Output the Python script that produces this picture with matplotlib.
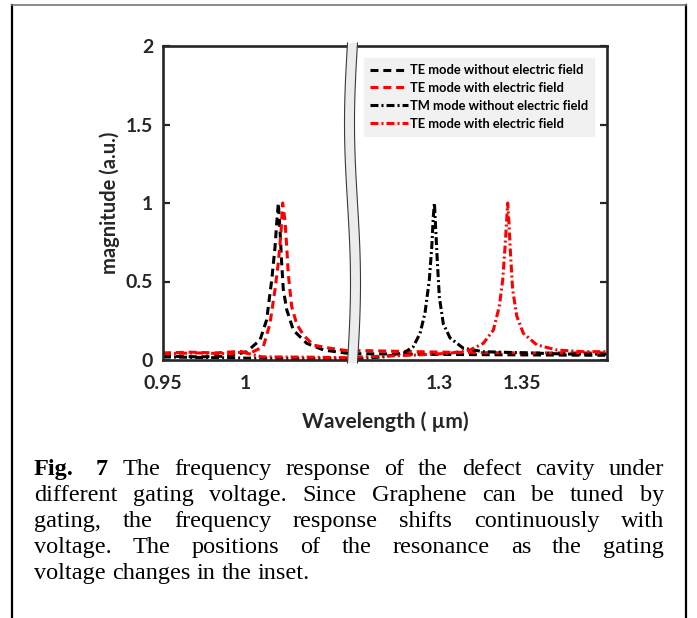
import numpy as np
import matplotlib
matplotlib.use('Agg')
import matplotlib.pyplot as plt
from matplotlib.patches import Polygon
from matplotlib.lines import Line2D

# ---------------- data ----------------
te_off_wl = [0.95, 0.9724, 0.9906, 1.0007, 1.0088, 1.0128, 1.0159, 1.0179, 1.0189,
             1.0199, 1.0209, 1.0219, 1.0229, 1.0250, 1.0290, 1.0371, 1.0472, 1.0613,
             1.2521, 1.3067, 1.4016]
te_off_mag = [0.025, 0.02, 0.025, 0.053, 0.127, 0.255, 0.51, 0.72, 0.87,
              1.0, 0.83, 0.62, 0.45, 0.32, 0.19, 0.106, 0.064, 0.043,
              0.04, 0.035, 0.03]

te_on_wl = [0.95, 0.9664, 0.9815, 0.9967, 1.0027, 1.0108, 1.0148, 1.0179, 1.0199,
            1.0215, 1.0225, 1.0239, 1.0250, 1.0259, 1.0280, 1.0310, 1.0350, 1.0411,
            1.0512, 1.0613, 1.2539, 1.2865, 1.3188, 1.3612, 1.4016]
te_on_mag = [0.045, 0.05, 0.045, 0.055, 0.043, 0.085, 0.23, 0.45, 0.62,
             0.81, 1.0, 0.89, 0.72, 0.55, 0.34, 0.23, 0.16, 0.095,
             0.075, 0.06, 0.06, 0.053, 0.047, 0.045, 0.045]

tm_off_wl = [0.95, 0.98, 1.0, 1.03, 1.06, 1.2521, 1.2662, 1.2784, 1.2844, 1.2885,
             1.2915, 1.2941, 1.2956, 1.2965, 1.2972, 1.2980, 1.2990, 1.3002, 1.3026,
             1.3067, 1.3147, 1.3268, 1.3471, 1.3774, 1.4016]
tm_off_mag = [0.02, 0.015, 0.012, 0.01, 0.01, 0.01, 0.02, 0.043, 0.085, 0.17,
              0.30, 0.51, 0.72, 0.91, 1.0, 0.83, 0.62, 0.40, 0.23,
              0.14, 0.075, 0.053, 0.047, 0.038, 0.038]

tm_on_wl = [0.95, 0.97, 0.99, 0.998, 1.004, 1.01, 1.04, 1.06, 1.2541, 1.2865,
            1.3067, 1.3188, 1.3268, 1.3329, 1.3365, 1.3386, 1.3400, 1.3410, 1.3416,
            1.3424, 1.3434, 1.3446, 1.3471, 1.3511, 1.3593, 1.3713, 1.3875, 1.4016]
tm_on_mag = [0.04, 0.045, 0.04, 0.05, 0.035, 0.02, 0.018, 0.015, 0.02, 0.032,
             0.043, 0.064, 0.106, 0.19, 0.34, 0.51, 0.72, 0.89, 1.0,
             0.87, 0.66, 0.45, 0.28, 0.17, 0.096, 0.064, 0.053, 0.053]

series_labels = ['TE mode without electric field', 'TE mode with electric field',
                 'TM mode without electric field', 'TE mode with electric field']

x_ticks = [0.95, 1.0, 1.3, 1.35]
x_tick_labels = ['0.95', '1', '1.3', '1.35']
y_ticks = [0, 0.5, 1, 1.5, 2]
y_tick_labels = ['0', '0.5', '1', '1.5', '2']
x_min, x_max = 0.95, 1.4018
break_lo, break_hi = 1.0645, 1.2473

caption_lines = [
    ['Fig.', '7', 'The', 'frequency', 'response', 'of', 'the', 'defect', 'cavity', 'under'],
    ['different', 'gating', 'voltage.', 'Since', 'Graphene', 'can', 'be', 'tuned', 'by'],
    ['gating,', 'the', 'frequency', 'response', 'shifts', 'continuously', 'with'],
    ['voltage.', 'The', 'positions', 'of', 'the', 'resonance', 'as', 'the', 'gating'],
    ['voltage', 'changes', 'in', 'the', 'inset.'],
]

# ---------------- figure ----------------
W, H = 697, 618
fig = plt.figure(figsize=(W / 100, H / 100), dpi=100)
fig.patch.set_facecolor('white')

def fx(px):
    return px / W

def fy(py):
    return 1 - py / H

ax_l, ax_r, ax_t, ax_b = 163, 607, 46, 360
ax = fig.add_axes([fx(ax_l), fy(ax_b), (ax_r - ax_l) / W, (ax_b - ax_t) / H])

# broken x axis through a piecewise-linear scale
seg_x = [x_min, break_lo, break_hi, x_max]
gap = 1e-4
seg_u = [0.0, break_lo - x_min, break_lo - x_min + gap,
         break_lo - x_min + gap + (x_max - break_hi)]

def fwd(x):
    return np.interp(np.asarray(x, dtype=float), seg_x, seg_u)

def inv(u):
    return np.interp(np.asarray(u, dtype=float), seg_u, seg_x)

ax.set_xscale('function', functions=(fwd, inv))

lw = 2.2
dash = (0, (2.6, 1.6))
dashdot = (0, (2.6, 1.0, 0.65, 1.0))
ax.plot(te_off_wl, te_off_mag, color='black', lw=lw, linestyle=dash, label=series_labels[0])
ax.plot(te_on_wl, te_on_mag, color='#ff0000', lw=lw, linestyle=dash, label=series_labels[1])
ax.plot(tm_off_wl, tm_off_mag, color='black', lw=lw, linestyle=dashdot, label=series_labels[2])
ax.plot(tm_on_wl, tm_on_mag, color='#ff0000', lw=lw, linestyle=dashdot, label=series_labels[3])

ax.set_xlim(x_min, x_max)
ax.set_ylim(0, 2)
ax.set_xticks(x_ticks)
ax.set_xticklabels(x_tick_labels)
ax.set_yticks(y_ticks)
ax.set_yticklabels(y_tick_labels)
ax.xaxis.set_minor_locator(matplotlib.ticker.NullLocator())

dark = '#262626'
for lab in ax.get_xticklabels() + ax.get_yticklabels():
    lab.set_fontfamily('Lato')
    lab.set_fontweight('bold')
    lab.set_fontsize(14)
    lab.set_color(dark)
ax.tick_params(axis='y', direction='in', length=5, width=1.6, color=dark,
               left=True, right=True, pad=7)
ax.tick_params(axis='x', length=0, pad=11)
for sp in ax.spines.values():
    sp.set_color(dark)
    sp.set_linewidth(1.9)

ax.set_ylabel('magnitude (a.u.)', fontfamily='Lato', fontweight='bold', fontsize=14.5,
              color=dark, labelpad=4)
ax.set_xlabel('Wavelength ( \u00b5m)', fontfamily='Lato', fontweight='bold', fontsize=15,
              color=dark, labelpad=14)

leg = ax.legend(loc='upper right', bbox_to_anchor=((595 - ax_l) / (ax_r - ax_l),
                                                  (ax_b - 57) / (ax_b - ax_t)),
                bbox_transform=ax.transAxes, borderaxespad=0,
                prop=dict(family='Lato', weight='bold', size=9.3),
                handlelength=2.9, handletextpad=0.15, labelspacing=0.45,
                borderpad=0.55, frameon=True, fancybox=False)
leg.get_frame().set_facecolor('#eeeeee')
leg.get_frame().set_edgecolor('white')
leg.get_frame().set_linewidth(0.8)
for t in leg.get_texts():
    t.set_color('black')

# wavy break band (decoration)
t = np.linspace(0, 1, 60)
ys_px = ax_b + 3 - t * (ax_b - ax_t + 6)
cx = 352 + 0.5 + 3 * np.sin(2 * np.pi * t)
half = 5
left_edge = np.column_stack([fx(cx - half), fy(ys_px)])
right_edge = np.column_stack([fx(cx + half), fy(ys_px)])
band = Polygon(np.vstack([left_edge, right_edge[::-1]]), closed=True,
               transform=fig.transFigure, facecolor='#ececec', edgecolor='none',
               zorder=10, clip_on=False)
fig.add_artist(band)
for edge in (left_edge, right_edge):
    fig.add_artist(Line2D(edge[:, 0], edge[:, 1], transform=fig.transFigure,
                          color='#3a3a3a', lw=0.8, zorder=11))

# outer page frame
fig.add_artist(Line2D([fx(12), fx(12)], [fy(5), fy(618)], transform=fig.transFigure,
                      color='black', lw=1.6))
fig.add_artist(Line2D([fx(686), fx(686)], [fy(5), fy(618)], transform=fig.transFigure,
                      color='black', lw=1.6))
fig.add_artist(Line2D([fx(12), fx(686)], [fy(5), fy(5)], transform=fig.transFigure,
                      color='#777777', lw=1.2))

# justified caption
renderer = fig.canvas.get_renderer()
cap_left, cap_right = 34, 664
baselines = [475, 501, 527, 553, 579]
cap_size = 17.5
for li, words in enumerate(caption_lines):
    texts = []
    for wi, w in enumerate(words):
        bold = (li == 0 and wi < 2)
        tx = fig.text(0, fy(baselines[li]), w, fontfamily='Liberation Serif',
                      fontsize=cap_size, fontweight='bold' if bold else 'normal',
                      va='baseline', ha='left', color='black')
        texts.append(tx)
    widths = [tx.get_window_extent(renderer).width for tx in texts]
    if li < len(caption_lines) - 1:
        weights = [1.6 if (li == 0 and i == 0) else 1.0 for i in range(len(words) - 1)]
        g = (cap_right - cap_left - sum(widths)) / sum(weights)
        gaps = [g * wt for wt in weights]
    else:
        sp = fig.text(0, 0, 'a b', fontfamily='Liberation Serif', fontsize=cap_size)
        sp2 = fig.text(0, 0, 'ab', fontfamily='Liberation Serif', fontsize=cap_size)
        g = sp.get_window_extent(renderer).width - sp2.get_window_extent(renderer).width
        sp.remove(); sp2.remove()
        gaps = [g] * (len(words) - 1)
    x = cap_left
    for i, tx in enumerate(texts):
        tx.set_x(fx(x))
        x += widths[i] + (gaps[i] if i < len(gaps) else 0)

fig.savefig('out.png', dpi=100, facecolor='white')
